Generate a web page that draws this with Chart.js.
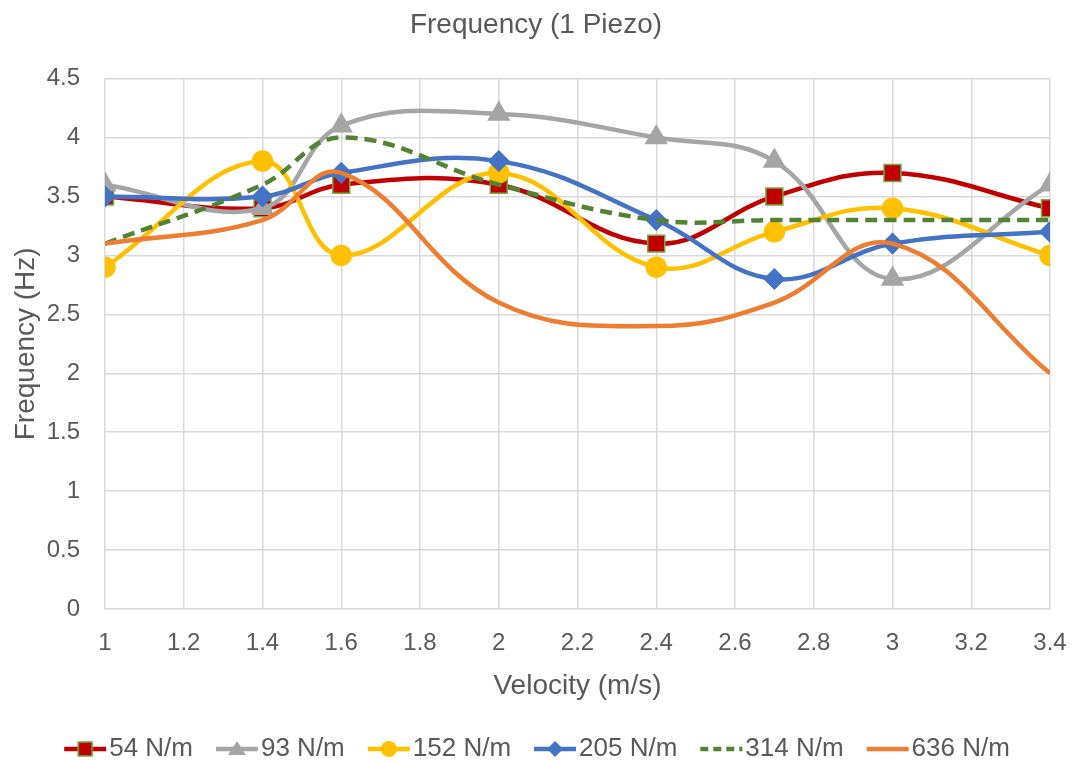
<!DOCTYPE html>
<html>
<head>
<meta charset="utf-8">
<title>Frequency (1 Piezo)</title>
<script src="https://cdn.jsdelivr.net/npm/chart.js@4.4.1/dist/chart.umd.min.js"></script>
<style>
    html, body { margin: 0; padding: 0; background: #ffffff; }
    #caixa { width: 1072px; height: 762px; position: relative; }
</style>
</head>
<body>
<div id="caixa"><canvas id="grafico"></canvas></div>
<script>
// dados
const velocidade = [1, 1.4, 1.6, 2, 2.4, 2.7, 3, 3.4];
const nomes = ['54 N/m', '93 N/m', '152 N/m', '205 N/m', '314 N/m', '636 N/m'];
const serie54 = [3.5, 3.4, 3.6, 3.6, 3.1, 3.5, 3.7, 3.4];
const serie93 = [3.6, 3.4, 4.1, 4.2, 4.0, 3.8, 2.8, 3.6];
const serie152 = [2.9, 3.8, 3.0, 3.7, 2.9, 3.2, 3.4, 3.0];
const serie205 = [3.5, 3.5, 3.7, 3.8, 3.3, 2.8, 3.1, 3.2];
const serie314 = [3.1, 3.6, 4.0, 3.6, 3.3, 3.3, 3.3, 3.3];
const serie636 = [3.1, 3.3, 3.7, 2.6, 2.4, 2.6, 3.1, 2.0];

const cinzaTexto = '#595959';
const fonte = 'Liberation Sans, Arial, sans-serif';

function pontos(valores) {
    return velocidade.map(function (v, i) { return { x: v, y: valores[i] }; });
}

// estilo de cada serie (linha + marcador)
const estilos = [
    { cor: '#C00000', marcador: 'rect', raio: 12, fundo: '#C00000', borda: '#70AD47', dash: [] },
    { cor: '#A5A5A5', marcador: 'triangle', raio: 12, fundo: '#A5A5A5', borda: '#A5A5A5', dash: [] },
    { cor: '#FFC000', marcador: 'circle', raio: 10, fundo: '#FFC000', borda: '#FFC000', dash: [] },
    { cor: '#4472C4', marcador: 'rectRot', raio: 10, fundo: '#4472C4', borda: '#4472C4', dash: [] },
    { cor: '#548235', marcador: false, raio: 0, fundo: '#548235', borda: '#548235', dash: [12, 7] },
    { cor: '#ED7D31', marcador: false, raio: 0, fundo: '#ED7D31', borda: '#ED7D31', dash: [] }
];
const valores = [serie54, serie93, serie152, serie205, serie314, serie636];

// desenha o simbolo da legenda (linha com marcador no meio)
function simboloLegenda(e) {
    const c = document.createElement('canvas');
    c.width = 44;
    c.height = 26;
    const ctx = c.getContext('2d');
    ctx.strokeStyle = e.cor;
    ctx.lineWidth = 4.5;
    ctx.setLineDash(e.dash.length ? [8, 5] : []);
    ctx.beginPath();
    ctx.moveTo(1, 13);
    ctx.lineTo(43, 13);
    ctx.stroke();
    ctx.setLineDash([]);
    ctx.fillStyle = e.fundo;
    ctx.strokeStyle = e.borda;
    ctx.lineWidth = 1.5;
    const cx = 22, cy = 13;
    if (e.marcador === 'rect') {
        ctx.fillRect(cx - 7, cy - 7, 14, 14);
        ctx.strokeRect(cx - 7, cy - 7, 14, 14);
    } else if (e.marcador === 'triangle') {
        ctx.beginPath();
        ctx.moveTo(cx, cy - 8);
        ctx.lineTo(cx + 9, cy + 6);
        ctx.lineTo(cx - 9, cy + 6);
        ctx.closePath();
        ctx.fill();
    } else if (e.marcador === 'circle') {
        ctx.beginPath();
        ctx.arc(cx, cy, 8, 0, Math.PI * 2);
        ctx.fill();
    } else if (e.marcador === 'rectRot') {
        ctx.beginPath();
        ctx.moveTo(cx, cy - 8);
        ctx.lineTo(cx + 8, cy);
        ctx.lineTo(cx, cy + 8);
        ctx.lineTo(cx - 8, cy);
        ctx.closePath();
        ctx.fill();
    }
    return c;
}

const conjuntos = nomes.map(function (nome, i) {
    const e = estilos[i];
    return {
        label: nome,
        data: pontos(valores[i]),
        borderColor: e.cor,
        backgroundColor: e.fundo,
        borderWidth: 4.5,
        borderDash: e.dash,
        tension: 0.4,
        pointStyle: e.marcador,
        pointRadius: e.raio,
        pointHoverRadius: e.raio,
        pointBackgroundColor: e.fundo,
        pointBorderColor: e.borda,
        pointBorderWidth: 1.5,
        order: nomes.length - i
    };
});

// titulo e legenda ficam centrados na largura toda, como no Excel
const ajusteCentro = {
    id: 'ajusteCentro',
    afterLayout: function (chart) {
        chart.legend.left += 17;
        chart.legend.right += 17;
        chart.titleBlock.left += 11;
        chart.titleBlock.right += 11;
    }
};

const grafico = document.getElementById('grafico');

const config = {
    type: 'line',
    data: { datasets: conjuntos },
    plugins: [ajusteCentro],
    options: {
        responsive: true,
        maintainAspectRatio: false,
        animation: false,
        layout: {
            padding: { left: 0, right: 22, top: 0, bottom: -10 }
        },
        scales: {
            x: {
                type: 'linear',
                min: 1,
                max: 3.4,
                grid: { color: '#D9D9D9', lineWidth: 1.5, drawTicks: false },
                border: { color: '#D9D9D9', width: 1.5 },
                ticks: {
                    stepSize: 0.2,
                    padding: 20,
                    color: cinzaTexto,
                    font: { size: 24, family: fonte },
                    callback: function (v) { return String(Math.round(v * 10) / 10); }
                },
                title: {
                    display: true,
                    text: 'Velocity (m/s)',
                    color: cinzaTexto,
                    font: { size: 28, family: fonte },
                    padding: { top: 8, bottom: 0 }
                },
                afterFit: function (escala) {
                    escala.height = 94;
                    escala.paddingLeft = 0;
                    escala.paddingRight = 0;
                }
            },
            y: {
                min: 0,
                max: 4.5,
                grid: { color: '#D9D9D9', lineWidth: 1.5, drawTicks: false },
                border: { display: false },
                ticks: {
                    stepSize: 0.5,
                    padding: 25,
                    color: cinzaTexto,
                    font: { size: 24, family: fonte },
                    callback: function (v) { return String(v); }
                },
                title: {
                    display: true,
                    text: 'Frequency (Hz)',
                    color: cinzaTexto,
                    font: { size: 28, family: fonte },
                    padding: { top: 9, bottom: 4 }
                },
                afterFit: function (escala) { escala.width = 105; }
            }
        },
        plugins: {
            title: {
                display: true,
                text: 'Frequency (1 Piezo)',
                color: cinzaTexto,
                font: { size: 28, family: fonte, weight: 'normal' },
                padding: { top: 8, bottom: 37 }
            },
            legend: {
                position: 'bottom',
                labels: {
                    color: cinzaTexto,
                    font: { size: 26, family: fonte },
                    usePointStyle: true,
                    pointStyleWidth: 22,
                    boxHeight: 24,
                    padding: 33,
                    generateLabels: function (chart) {
                        return chart.data.datasets.map(function (ds, i) {
                            return {
                                text: ds.label,
                                pointStyle: simboloLegenda(estilos[i]),
                                fillStyle: estilos[i].cor,
                                strokeStyle: estilos[i].cor,
                                lineWidth: 0,
                                fontColor: cinzaTexto,
                                hidden: !chart.isDatasetVisible(i),
                                datasetIndex: i
                            };
                        });
                    }
                }
            },
            tooltip: { enabled: false }
        }
    }
};

const grafico_1 = new Chart(grafico, config);
</script>
</body>
</html>
